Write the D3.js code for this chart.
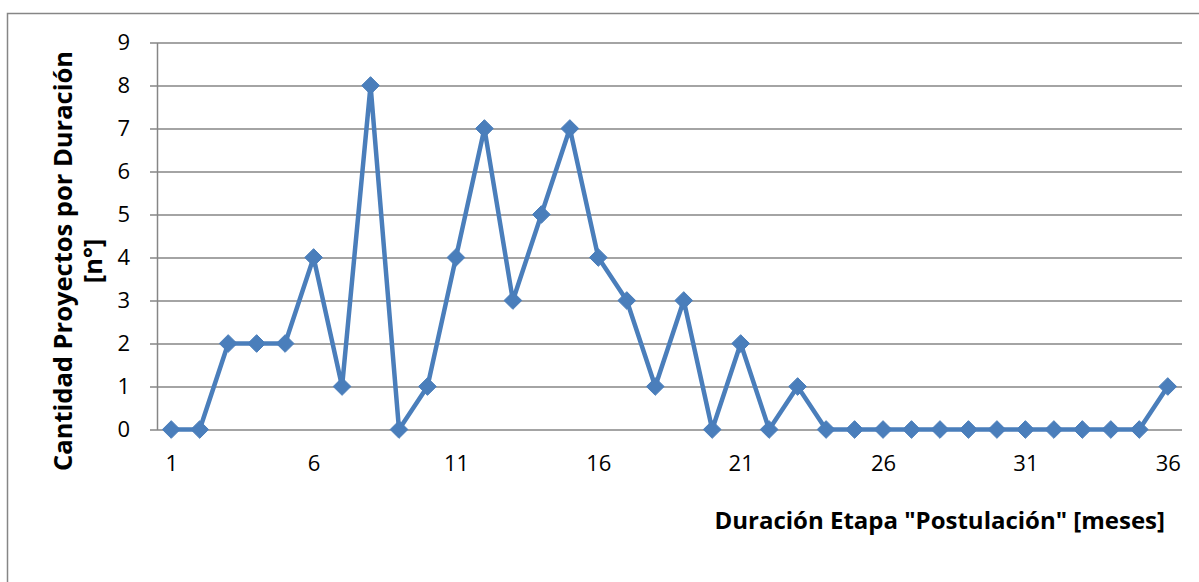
<!DOCTYPE html>
<html>
<head>
<meta charset="utf-8">
<script src="https://cdn.jsdelivr.net/npm/d3@7"></script>
<style>
  html, body { margin: 0; padding: 0; background: #fff; }
  svg { display: block; }
  text { font-family: "Open Sans", sans-serif; fill: #000; }
</style>
</head>
<body>
<svg id="chart" width="1199" height="582"></svg>
<script>
// Duration of the "Postulación" stage in months, and number of projects per duration
const months = d3.range(1, 37);
const projectCounts = [0, 0, 2, 2, 2, 4, 1, 8, 0, 1, 4, 7, 3, 5, 7, 4, 3, 1, 3, 0,
                       2, 0, 1, 0, 0, 0, 0, 0, 0, 0, 0, 0, 0, 0, 0, 1];
const yTicks = [0, 1, 2, 3, 4, 5, 6, 7, 8, 9];
const xTickLabels = [1, 6, 11, 16, 21, 26, 31, 36];
const xTitle = 'Duración Etapa "Postulación" [meses]';
const yTitleLines = ["Cantidad Proyectos por Duración", "[n°]"];

const svg = d3.select("#chart");
const plot = { left: 157, right: 1182, top: 42.5, bottom: 429.5 };

const x = d3.scalePoint().domain(months).range([plot.left, plot.right]).padding(0.5);
const y = d3.scaleLinear().domain([0, 9]).range([plot.bottom, plot.top]);

// chart frame
svg.append("rect")
  .attr("x", 7.5).attr("y", 13.5).attr("width", 1400).attr("height", 800)
  .attr("fill", "none").attr("stroke", "#868686").attr("stroke-width", 1.5);

// horizontal gridlines with ticks reaching left of the value axis
const yAxis = d3.axisLeft(y).tickValues(yTicks)
  .tickSize(-(plot.right - plot.left)).tickSizeOuter(0).tickPadding(27);
const gy = svg.append("g").attr("transform", `translate(${plot.left},0)`).call(yAxis)
  .attr("font-family", null).attr("font-size", null);
gy.select(".domain").attr("stroke", "#868686").attr("stroke-width", 1.5);
gy.selectAll(".tick line").attr("stroke", "#868686").attr("stroke-width", 1.5).attr("x1", -7);
gy.selectAll(".tick text").attr("font-size", 22).attr("fill", "#000").attr("dy", "0.3em");

// category axis labels
const xAxis = d3.axisBottom(x).tickValues(xTickLabels).tickSize(0).tickPadding(26).tickSizeOuter(0);
const gx = svg.append("g").attr("transform", `translate(0,${plot.bottom})`).call(xAxis)
  .attr("font-family", null).attr("font-size", null);
gx.select(".domain").remove();
gx.selectAll(".tick text").attr("font-size", 22).attr("fill", "#000");

// series line
const data = months.map((m, i) => ({ m, v: projectCounts[i] }));
svg.append("path")
  .datum(data)
  .attr("fill", "none")
  .attr("stroke", "#4a7ebb")
  .attr("stroke-width", 4.5)
  .attr("stroke-linejoin", "round")
  .attr("d", d3.line().x(d => x(d.m)).y(d => y(d.v)));

// diamond markers
const diamond = d3.symbol().type(d3.symbolDiamond2).size(200);
svg.append("g").selectAll("path")
  .data(data)
  .join("path")
  .attr("transform", d => `translate(${x(d.m)},${y(d.v)})`)
  .attr("d", diamond)
  .attr("fill", "#4a7ebb")
  .attr("stroke", "#4a7ebb")
  .attr("stroke-width", 1);

// axis titles
svg.append("text")
  .attr("x", 1165).attr("y", 529)
  .attr("text-anchor", "end")
  .attr("font-size", 24).attr("font-weight", "bold")
  .text(xTitle);

const yt = svg.append("text")
  .attr("transform", "translate(0,261) rotate(-90)")
  .attr("text-anchor", "middle")
  .attr("font-size", 25.5).attr("font-weight", "bold");
yt.selectAll("tspan").data(yTitleLines).join("tspan")
  .attr("x", 0).attr("y", (d, i) => 72 + i * 30)
  .text(d => d);
</script>
</body>
</html>
